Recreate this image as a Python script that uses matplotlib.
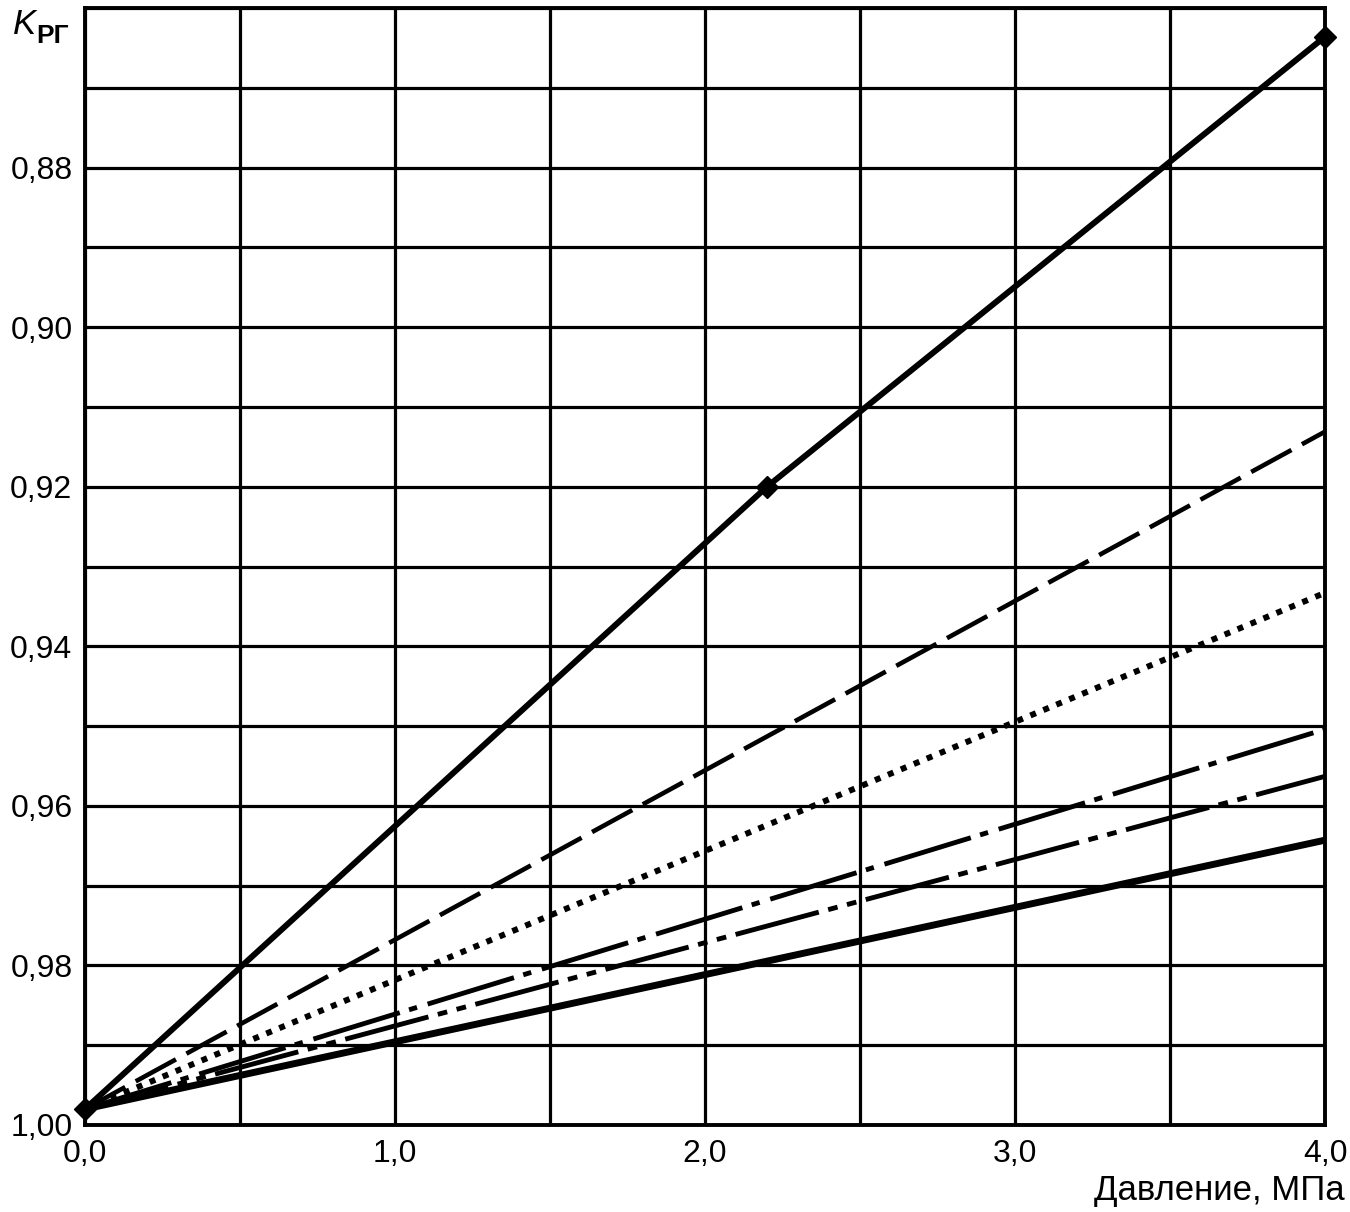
import numpy as np
import matplotlib
matplotlib.use('Agg')
import matplotlib.pyplot as plt

plt.rcParams['font.family'] = ['Liberation Sans', 'DejaVu Sans']
plt.rcParams['lines.scale_dashes'] = False

# давление, МПа
p_points = [0.0, 2.2, 4.0]
p_ends = [0.0, 4.0]

# K_РГ: верхняя кривая (с маркерами) и пять прямых
k_top = [0.998, 0.920, 0.8636]
k_dash = [0.998, 0.9131]
k_dot = [0.998, 0.9333]
k_dashdot = [0.998, 0.9504]
k_dashdotdot = [0.998, 0.9563]
k_thick = [0.998, 0.9643]

x_ticks = np.arange(0, 4.01, 0.5)
x_labels = ['0,0', '', '1,0', '', '2,0', '', '3,0', '', '4,0']
y_ticks = np.arange(0.86, 1.0001, 0.01)
y_labels = ['', '', '0,88', '', '0,90', '', '0,92', '', '0,94', '', '0,96', '', '0,98', '', '1,00']

W, H = 1350, 1212
fig = plt.figure(figsize=(W / 100, H / 100), dpi=100)
ax = fig.add_axes([85 / W, 87 / H, 1240 / W, 1117 / H])

ax.plot(p_points, k_top, color='black', lw=4.3, marker='D', ms=11, zorder=5, clip_on=False)
ax.plot(p_ends, k_dash, color='black', lw=3.3, ls=(0, (33, 8.6)), zorder=4)
ax.plot(p_ends, k_dot, color='black', lw=4.3, ls=(0, (4.3, 5.8)), zorder=4)
ax.plot(p_ends, k_dashdot, color='black', lw=3.5, ls=(0, (65, 7, 6, 8)), zorder=4)
ax.plot(p_ends, k_dashdotdot, color='black', lw=3.5, ls=(0, (62, 7, 7, 7, 7, 7)), zorder=4)
ax.plot(p_ends, k_thick, color='black', lw=5, zorder=4)

ax.set_xlim(0, 4.0)
ax.set_ylim(1.0, 0.86)
ax.set_xticks(x_ticks)
ax.set_xticklabels(x_labels)
ax.set_yticks(y_ticks)
ax.set_yticklabels(y_labels)
ax.tick_params(length=0, labelsize=23, colors='black')
ax.tick_params(axis='y', pad=9)
ax.tick_params(axis='x', pad=10)
ax.grid(True, color='black', lw=2.3)
ax.set_axisbelow(True)
for s in ax.spines.values():
    s.set_linewidth(2.8)
    s.set_color('black')

fig.text(1345 / W, 1 - 1200 / H, 'Давление, МПа', fontsize=25, ha='right', va='baseline')
fig.text(13 / W, 1 - 34 / H, 'K', fontsize=25, style='italic', ha='left', va='baseline')
fig.text(36 / W, 1 - 43 / H, 'РГ', fontsize=19, fontweight='bold', ha='left', va='baseline')

fig.savefig('out.png', dpi=100)
